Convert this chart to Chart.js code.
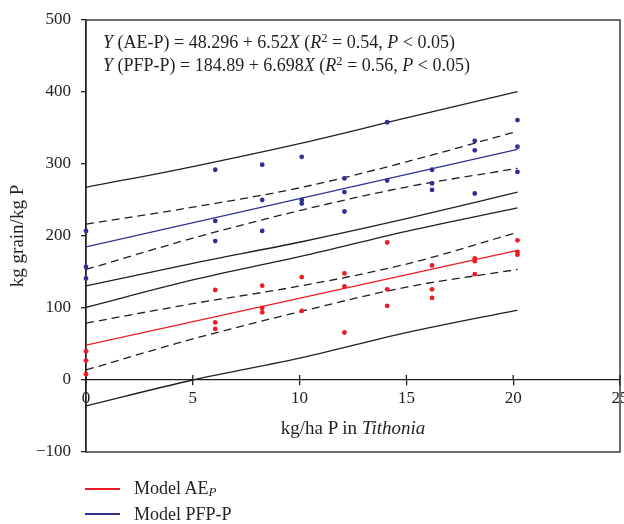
<!DOCTYPE html>
<html>
<head>
<meta charset="utf-8">
<script src="https://cdn.jsdelivr.net/npm/chart.js@4/dist/chart.umd.min.js"></script>
<style>
  html, body { margin: 0; padding: 0; background: #fff; }
  #wrap { position: relative; width: 624px; height: 524px; font-family: "Liberation Serif", "DejaVu Serif", serif; color: #231f20; }
  #c { position: absolute; left: 0; top: 0; }
  .txt { position: absolute; white-space: nowrap; line-height: 1; }
  .sup { position: relative; top: -0.5em; font-size: 0.7em; }
  .leg-line { position: absolute; width: 35px; height: 2px; }
</style>
</head>
<body>
<div id="wrap">
  <canvas id="c" width="624" height="524"></canvas>
  <div class="txt" style="left:103px; top:33px; font-size:18px;"><i>Y</i> (AE-P) = 48.296 + 6.52<i>X</i> (<i>R</i><span class="sup">2</span> = 0.54, <i>P</i> &lt; 0.05)</div>
  <div class="txt" style="left:103px; top:56px; font-size:18px;"><i>Y</i> (PFP-P) = 184.89 + 6.698<i>X</i> (<i>R</i><span class="sup">2</span> = 0.56, <i>P</i> &lt; 0.05)</div>
  <div class="txt" id="xtitle" style="left:353px; top:418px; font-size:19px; transform:translateX(-50%);">kg/ha P in <i>Tithonia</i></div>
  <div class="leg-line" style="left:85px; top:488px; background-color:rgb(237,28,36);"></div>
  <div class="txt" style="left:134px; top:479px; font-size:18px;">Model AE<i style="font-size:0.72em; position:relative; top:0.15em;">P</i></div>
  <div class="leg-line" style="left:85px; top:513px; background-color:rgb(46,49,146);"></div>
  <div class="txt" style="left:134px; top:505px; font-size:18px;">Model PFP-P</div>
</div>
<script>
// ---- data ----
const xTicks = [0, 5, 10, 15, 20, 25];
const yTicks = [-100, 0, 100, 200, 300, 400, 500];

// observed points
const pfpX = [0, 0, 0, 6.05, 6.05, 6.05, 8.25, 8.25, 8.25, 10.1, 10.1, 10.1, 12.1, 12.1, 12.1, 14.1, 14.1, 16.2, 16.2, 16.2, 18.2, 18.2, 18.2, 20.2, 20.2, 20.2];
const pfpY = [207, 157, 141, 292, 221, 193, 299, 250, 207, 310, 250, 245, 280, 261, 234, 358, 277, 292, 273, 264, 332, 319, 259, 361, 324, 289];
const aeX  = [0, 0, 0, 6.05, 6.05, 6.05, 8.25, 8.25, 8.25, 10.1, 10.1, 12.1, 12.1, 12.1, 14.1, 14.1, 14.1, 16.2, 16.2, 16.2, 18.2, 18.2, 18.2, 20.2, 20.2, 20.2];
const aeY  = [40, 27, 8, 125, 80, 71, 131, 100, 94, 143, 96, 148, 130, 66, 191, 126, 103, 159, 126, 114, 169, 165, 147, 194, 178, 174];

// fitted lines
const fitX = [0, 20.2];
const pfpFit = [184.9, 320.2];
const aeFit = [48.3, 180.0];

// bands (read at these x positions)
const bandX = [0, 5, 10.1, 15, 20.2];
const pfpPredUpper = [267.6, 296.5, 329, 364, 400.5];
const pfpConfUpper = [216.5, 240, 267.5, 303, 345.5];
const pfpConfLower = [153.5, 197, 236, 268, 294];
const pfpPredLower = [130.6, 162, 192, 224, 260.8];
const aePredUpper  = [101, 139, 172, 206.5, 239];
const aeConfUpper  = [79, 106, 131, 161, 205];
const aeConfLower  = [14, 57, 95.5, 129, 153.5];
const aePredLower  = [-36, 0, 31, 65.7, 97.2];

// ---- build ----
const INK = '#231f20', RED = '#ed1c24', BLUE = '#2e3192';
const FONT = '"Liberation Serif", "DejaVu Serif", serif';
const pts = (xs, ys) => xs.map((x, i) => ({x: x, y: ys[i]}));

function lineDs(xs, ys, color, dashed) {
  return {
    type: 'line', data: pts(xs, ys), borderColor: color, borderWidth: 1.3,
    borderDash: dashed ? [8, 5] : [], pointRadius: 0, fill: false,
    cubicInterpolationMode: 'monotone', showLine: true
  };
}

const datasets = [
  {type: 'scatter', data: pts(pfpX, pfpY), backgroundColor: BLUE, borderWidth: 0, pointRadius: 2.4, clip: false},
  {type: 'scatter', data: pts(aeX, aeY), backgroundColor: RED, borderWidth: 0, pointRadius: 2.4, clip: false},
  lineDs(fitX, pfpFit, BLUE, false),
  lineDs(fitX, aeFit, RED, false),
  lineDs(bandX, pfpPredUpper, INK, false),
  lineDs(bandX, pfpConfUpper, INK, true),
  lineDs(bandX, pfpConfLower, INK, true),
  lineDs(bandX, pfpPredLower, INK, false),
  lineDs(bandX, aePredUpper, INK, false),
  lineDs(bandX, aeConfUpper, INK, true),
  lineDs(bandX, aeConfLower, INK, true),
  lineDs(bandX, aePredLower, INK, false)
];

const framePlugin = {
  id: 'frame',
  beforeDatasetsDraw(chart) {
    const ctx = chart.ctx, a = chart.chartArea;
    const xs = chart.scales.x, ys = chart.scales.y;
    ctx.save();
    ctx.strokeStyle = INK;
    ctx.lineWidth = 1.3;
    ctx.strokeRect(a.left, a.top, a.right - a.left, a.bottom - a.top);
    const y0 = ys.getPixelForValue(0);
    ctx.beginPath();
    xTicks.forEach(v => {
      const px = xs.getPixelForValue(v);
      ctx.moveTo(px, y0);
      ctx.lineTo(px, y0 - 5);
    });
    ctx.stroke();
    ctx.restore();
  }
};

new Chart(document.getElementById('c'), {
  data: {datasets: datasets},
  options: {
    responsive: false,
    animation: false,
    devicePixelRatio: 1,
    layout: {padding: {left: 0, top: 20, right: 4, bottom: 72}},
    plugins: {legend: {display: false}, tooltip: {enabled: false}},
    scales: {
      x: {
        type: 'linear', position: {y: 0}, min: 0, max: 25,
        afterBuildTicks: s => { s.ticks = xTicks.map(v => ({value: v})); },
        afterFit: s => { s.paddingLeft = 0; s.paddingRight = 0; },
        grid: {drawOnChartArea: false, tickLength: 5, color: INK, lineWidth: 1.3},
        border: {display: true, color: INK, width: 1.3},
        ticks: {color: INK, font: {family: FONT, size: 17}, padding: 3, maxRotation: 0, autoSkip: false}
      },
      y: {
        type: 'linear', position: 'left', min: -100, max: 500,
        afterBuildTicks: s => { s.ticks = yTicks.map(v => ({value: v})); },
        afterFit: s => { s.width = 86; s.paddingTop = 0; s.paddingBottom = 0; },
        grid: {drawOnChartArea: false, tickLength: 5, color: INK, lineWidth: 1.3},
        border: {display: true, color: INK, width: 1.3},
        ticks: {color: INK, font: {family: FONT, size: 17}, padding: 10,
                callback: v => (v < 0 ? '\u2212' + Math.abs(v) : String(v))},
        title: {display: true, text: 'kg grain/kg P', color: INK, font: {family: FONT, size: 19}, padding: {top: 7, bottom: 0}}
      }
    }
  },
  plugins: [framePlugin]
});
</script>
</body>
</html>
